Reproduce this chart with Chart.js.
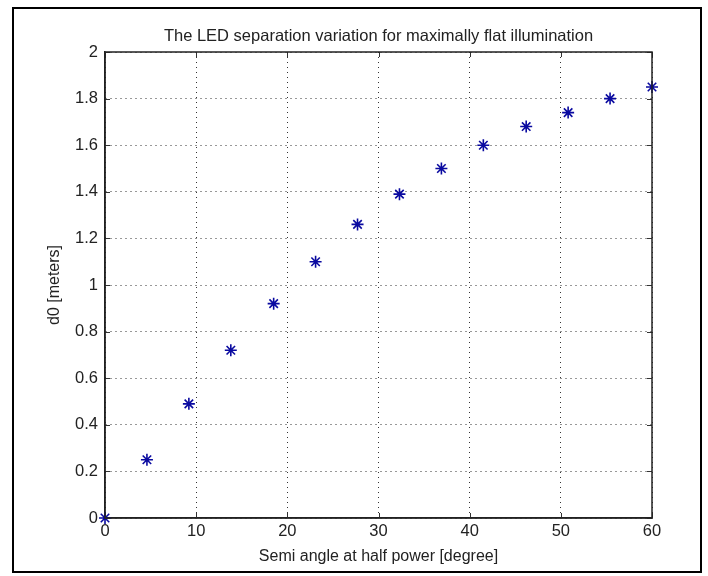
<!DOCTYPE html>
<html>
<head>
<meta charset="utf-8">
<script src="https://cdn.jsdelivr.net/npm/chart.js@4.4.0/dist/chart.umd.min.js"></script>
<style>
    body { margin: 0; background: #fff; }
    canvas { display: block; }
</style>
</head>
<body>
<canvas id="led-chart" width="708" height="576"></canvas>
<script>
// Data
const semiAngles = [0, 4.6, 9.2, 13.8, 18.5, 23.1, 27.7, 32.3, 36.9, 41.5, 46.2, 50.8, 55.4, 60];
const separations = [0, 0.25, 0.49, 0.72, 0.92, 1.10, 1.26, 1.39, 1.50, 1.60, 1.68, 1.74, 1.80, 1.85];
const xTicks = [0, 10, 20, 30, 40, 50, 60];
const yTicks = [0, 0.2, 0.4, 0.6, 0.8, 1, 1.2, 1.4, 1.6, 1.8, 2];

const points = semiAngles.map((x, i) => ({ x: x, y: separations[i] }));
const fontFamily = '"Liberation Sans", Arial, sans-serif';

// Box around the axes, inner tick marks and the outer figure frame
const framePlugin = {
    id: 'frame',
    beforeDraw(chart) {
        const ctx = chart.ctx;
        ctx.save();
        ctx.fillStyle = '#fff';
        ctx.fillRect(0, 0, chart.width, chart.height);
        ctx.strokeStyle = '#000';
        ctx.lineWidth = 2;
        ctx.strokeRect(13, 8, 688, 564);
        ctx.restore();
    },
    afterDatasetsDraw(chart) {
        const { ctx, chartArea: a, scales } = chart;
        ctx.save();
        ctx.strokeStyle = '#333';
        ctx.lineWidth = 1;
        xTicks.forEach(v => {
            const px = Math.round(scales.x.getPixelForValue(v)) + 0.5;
            ctx.beginPath();
            ctx.moveTo(px, a.bottom); ctx.lineTo(px, a.bottom - 5);
            ctx.moveTo(px, a.top); ctx.lineTo(px, a.top + 5);
            ctx.stroke();
        });
        yTicks.forEach(v => {
            const py = Math.round(scales.y.getPixelForValue(v)) + 0.5;
            ctx.beginPath();
            ctx.moveTo(a.left, py); ctx.lineTo(a.left + 5, py);
            ctx.moveTo(a.right, py); ctx.lineTo(a.right - 5, py);
            ctx.stroke();
        });
        ctx.lineWidth = 1.5;
        ctx.strokeStyle = '#222';
        ctx.strokeRect(a.left, a.top, a.right - a.left, a.bottom - a.top);
        ctx.restore();
    }
};

const ctx = document.getElementById('led-chart').getContext('2d');

new Chart(ctx, {
    type: 'scatter',
    data: {
        datasets: [{
            data: points,
            pointStyle: 'star',
            pointRadius: 6,
            pointHoverRadius: 6,
            pointBorderWidth: 1.6,
            borderColor: '#0a0aa0',
            backgroundColor: '#0a0aa0',
            clip: false
        }]
    },
    options: {
        responsive: false,
        animation: false,
        layout: { padding: { left: 0, right: 56, top: 0, bottom: 0 } },
        plugins: {
            legend: { display: false },
            tooltip: { enabled: false },
            title: {
                display: true,
                fullSize: false,
                text: 'The LED separation variation for maximally flat illumination',
                color: '#222',
                font: { family: fontFamily, size: 16.5, weight: 'normal', lineHeight: 1.2 },
                padding: { top: 27, bottom: 5.2 }
            }
        },
        scales: {
            x: {
                type: 'linear',
                min: 0,
                max: 60,
                afterBuildTicks: scale => { scale.ticks = xTicks.map(v => ({ value: v })); },
                afterFit: scale => { scale.height = 58; },
                ticks: {
                    color: '#222',
                    padding: 4,
                    maxRotation: 0,
                    font: { family: fontFamily, size: 16.5 },
                    callback: v => String(v)
                },
                grid: { color: '#333', lineWidth: 1, drawTicks: false },
                border: { display: true, color: '#222', width: 1.5, dash: [1, 4] },
                title: {
                    display: true,
                    text: 'Semi angle at half power [degree]',
                    color: '#222',
                    font: { family: fontFamily, size: 16, lineHeight: 1.2 },
                    padding: { top: 0, bottom: 10 }
                }
            },
            y: {
                type: 'linear',
                min: 0,
                max: 2,
                afterBuildTicks: scale => { scale.ticks = yTicks.map(v => ({ value: v })); },
                afterFit: scale => { scale.width = 105; },
                ticks: {
                    color: '#222',
                    padding: 7,
                    font: { family: fontFamily, size: 16.5 },
                    callback: v => String(Number(v.toFixed(1)))
                },
                grid: { color: '#333', lineWidth: 1, drawTicks: false },
                border: { display: true, color: '#222', width: 1.5, dash: [1, 4] },
                title: {
                    display: true,
                    text: 'd0 [meters]',
                    color: '#222',
                    font: { family: fontFamily, size: 16, lineHeight: 1.2 },
                    padding: { top: 45, bottom: 0 }
                }
            }
        }
    },
    plugins: [framePlugin]
});
</script>
</body>
</html>
